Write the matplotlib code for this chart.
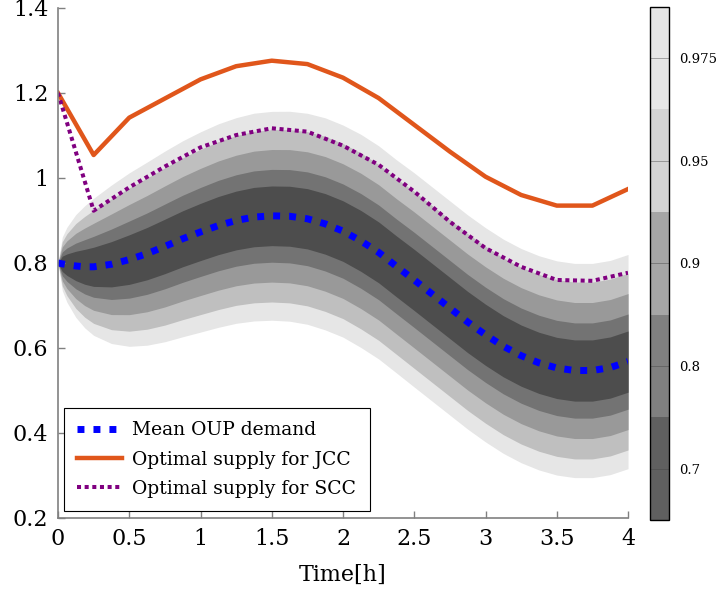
import numpy as np
import matplotlib.pyplot as plt
from matplotlib.colors import ListedColormap, BoundaryNorm
from matplotlib.cm import ScalarMappable

plt.rcParams['font.family'] = ['DejaVu Serif']
plt.rcParams['mathtext.fontset'] = 'dejavuserif'

# mean OUP demand and relative band width
t_mean = [0, 0.03, 0.0625, 0.125, 0.1875, 0.25, 0.375, 0.5, 0.625, 0.75, 0.875,
          1.0, 1.125, 1.25, 1.375, 1.5, 1.625, 1.75, 1.875, 2.0, 2.125, 2.25,
          2.375, 2.5, 2.625, 2.75, 2.875, 3.0, 3.125, 3.25, 3.375, 3.5, 3.625,
          3.75, 3.875, 4.0]
mean_demand = [0.800, 0.798, 0.796, 0.793, 0.791, 0.791, 0.797, 0.808, 0.822, 0.839, 0.857,
               0.873, 0.888, 0.900, 0.908, 0.911, 0.910, 0.904, 0.892, 0.875, 0.852, 0.825,
               0.792, 0.760, 0.727, 0.694, 0.661, 0.631, 0.604, 0.582, 0.565, 0.553, 0.547,
               0.547, 0.554, 0.568]
spread = [0.0, 0.25, 0.35, 0.48, 0.57, 0.64, 0.74, 0.81, 0.855, 0.89, 0.915,
          0.935, 0.95, 0.96, 0.97, 0.975, 0.98, 0.985, 0.99, 0.99, 0.995, 0.995,
          0.995, 1.0, 1.0, 1.0, 1.0, 1.0, 1.0, 1.0, 1.0, 1.0, 1.0,
          1.0, 1.0, 1.0]

# confidence levels and their steady-state half widths
levels = [0.7, 0.8, 0.9, 0.95, 0.975]
half_width = [0.072, 0.112, 0.160, 0.208, 0.252]
band_colors = ['#4d4d4d', '#737373', '#999999', '#bfbfbf', '#e6e6e6']
cbar_colors = ['#606060', '#808080', '#a6a6a6', '#d3d3d3', '#e6e6e6']

# optimal supply
t_supply = [0, 0.25, 0.5, 0.75, 1.0, 1.25, 1.5, 1.75, 2.0, 2.25, 2.5, 2.75, 3.0, 3.25, 3.5, 3.75, 4.0]
jcc = [1.2, 1.054, 1.142, 1.187, 1.232, 1.263, 1.276, 1.268, 1.236, 1.188, 1.125,
       1.062, 1.003, 0.960, 0.935, 0.935, 0.974]
scc = [1.2, 0.923, 0.978, 1.027, 1.072, 1.101, 1.117, 1.109, 1.076, 1.031, 0.968,
       0.897, 0.835, 0.791, 0.760, 0.758, 0.777]

x_ticks = [0, 0.5, 1, 1.5, 2, 2.5, 3, 3.5, 4]
x_labels = ['0', '0.5', '1', '1.5', '2', '2.5', '3', '3.5', '4']
y_ticks = [0.2, 0.4, 0.6, 0.8, 1.0, 1.2, 1.4]
y_labels = ['0.2', '0.4', '0.6', '0.8', '1', '1.2', '1.4']

fig = plt.figure(figsize=(7.17, 5.96), dpi=100)
ax = fig.add_axes([0.0809, 0.1309, 0.795, 0.8557])
cax = fig.add_axes([0.9066, 0.1275, 0.0265, 0.861])

mean = np.array(mean_demand)
sp = np.array(spread)
for hw, col in reversed(list(zip(half_width, band_colors))):
    ax.fill_between(t_mean, mean - hw * sp, mean + hw * sp, color=col, lw=0)

ax.plot(t_mean, mean_demand, color='blue', lw=5, dashes=(1, 1.3), label='Mean OUP demand')
ax.plot(t_supply, jcc, color='#e0561b', lw=3.2, label='Optimal supply for JCC')
ax.plot(t_supply, scc, color='#800080', lw=2.9, dashes=(1, 0.9), label='Optimal supply for SCC')

ax.set_xlim(0, 4)
ax.set_ylim(0.2, 1.4)
ax.set_xticks(x_ticks)
ax.set_xticklabels(x_labels)
ax.set_yticks(y_ticks)
ax.set_yticklabels(y_labels)
for s in ['top', 'right']:
    ax.spines[s].set_visible(False)
for s in ['left', 'bottom']:
    ax.spines[s].set_color('#808080')
    ax.spines[s].set_linewidth(1.2)
ax.tick_params(direction='in', length=5, width=1, color='#808080', labelsize=16, pad=7)
ax.set_xlabel('Time[h]', fontsize=16, labelpad=10)

leg = ax.legend(loc='lower left', bbox_to_anchor=(0.0105, 0.0137), borderaxespad=0,
                fontsize=13.5, handlelength=2.4, handletextpad=0.55, borderpad=0.7,
                labelspacing=0.6, fancybox=False, framealpha=1, edgecolor='black')
leg.get_frame().set_linewidth(0.8)

cmap = ListedColormap(cbar_colors)
norm = BoundaryNorm(np.arange(len(levels) + 1), len(levels))
centers = np.arange(len(levels)) + 0.5
cb = fig.colorbar(ScalarMappable(norm=norm, cmap=cmap), cax=cax, ticks=centers)
cb.set_ticklabels([str(l) for l in levels])
cb.minorticks_off()
cb.ax.tick_params(which='both', length=0, labelsize=9.5, pad=7)
cb.outline.set_linewidth(1)
for c in centers:
    cax.axhline(c, color='#444444', lw=0.6, alpha=0.5)

fig.savefig('out.png', dpi=100)
